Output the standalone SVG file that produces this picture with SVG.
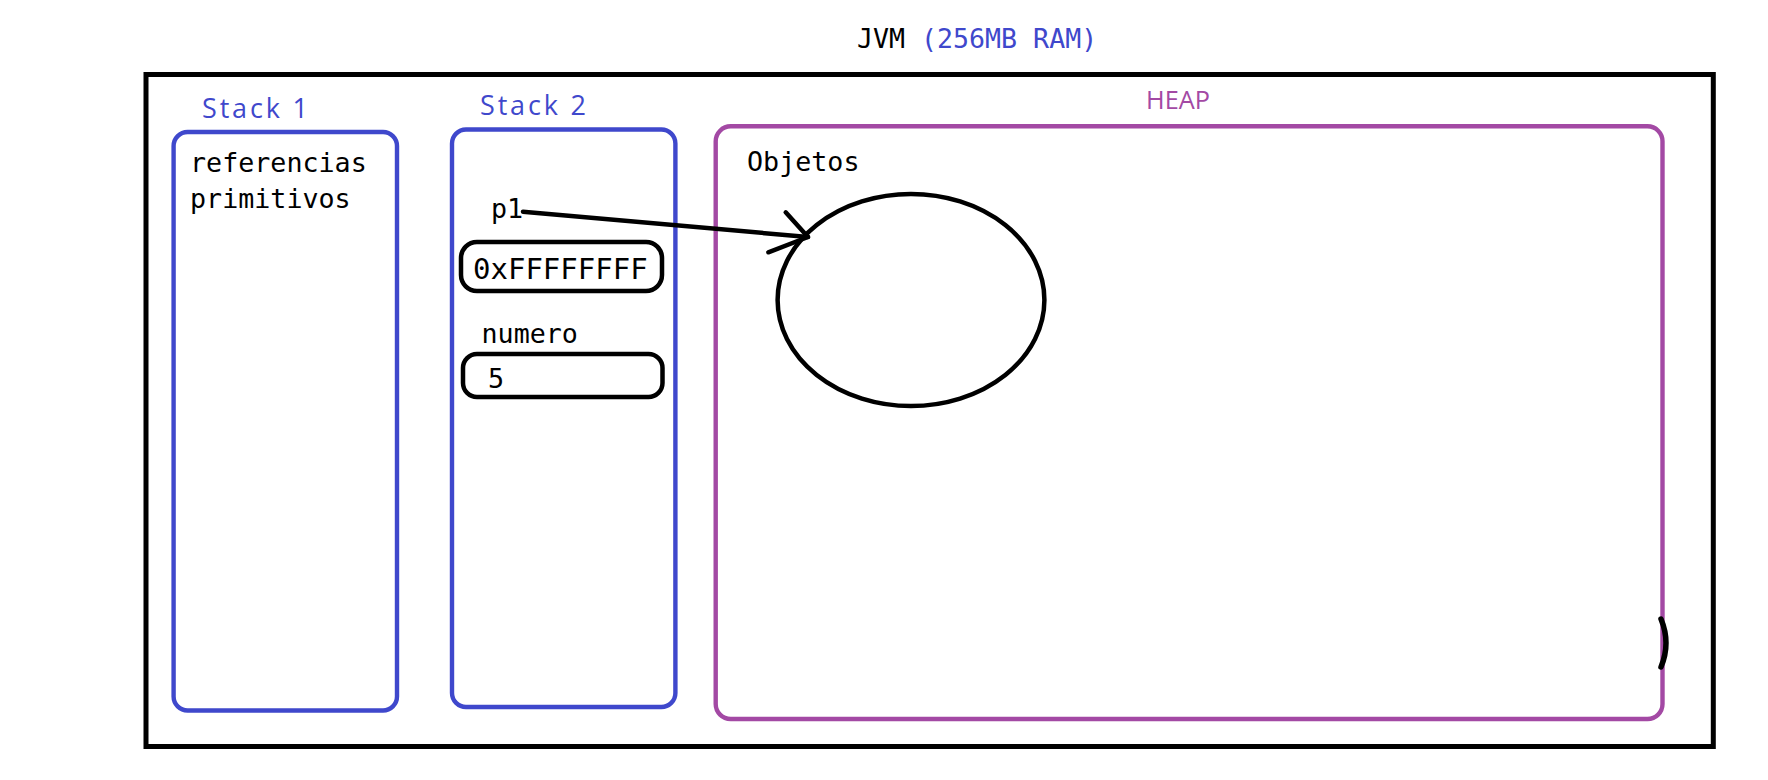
<svg xmlns="http://www.w3.org/2000/svg" width="1768" height="780" viewBox="0 0 1768 780">
<style>
.mono{font-family:"DejaVu Sans Mono","Liberation Mono",monospace;fill:#000}
.sans{font-family:"Open Sans","Noto Sans","Liberation Sans",sans-serif}
.blue{fill:#3F48CC}
.purple{fill:#A349A4}
.bbox{fill:none;stroke:#3F48CC;stroke-width:4.4}
.pbox{fill:none;stroke:#A349A4;stroke-width:4.4}
.ink{fill:none;stroke:#000;stroke-width:4.5;stroke-linecap:round;stroke-linejoin:round}
</style>
<rect width="1768" height="780" fill="#fff"/>
<g id="jvm">
<text class="mono" x="857" y="48.3" font-size="26.6">JVM <tspan class="blue">(256MB RAM)</tspan></text>
<rect x="146" y="74.5" width="1567.3" height="672" fill="none" stroke="#000" stroke-width="5"/>
</g>
<g id="stack1">
<text class="sans blue" x="202" y="118.3" font-size="27" textLength="106" lengthAdjust="spacing">Stack 1</text>
<rect class="bbox" x="173.6" y="132" width="223.4" height="578.5" rx="14"/>
<text class="mono" x="190" y="172.3" font-size="26.7">referencias</text>
<text class="mono" x="190" y="208.3" font-size="26.7">primitivos</text>
</g>
<g id="stack2">
<text class="sans blue" x="480" y="115" font-size="27" textLength="106" lengthAdjust="spacing">Stack 2</text>
<rect class="bbox" x="452" y="129.5" width="223.4" height="577.5" rx="14"/>
</g>
<g id="p1">
<text class="mono" x="491" y="218.3" font-size="26.7">p1</text>
<rect class="ink" x="461" y="242" width="201" height="49" rx="16"/>
<text class="mono" x="473" y="279.3" font-size="29">0xFFFFFFFF</text>
</g>
<g id="numero">
<text class="mono" x="481.5" y="342.7" font-size="26.7">numero</text>
<rect class="ink" x="463" y="354" width="199.5" height="43" rx="14"/>
<text class="mono" x="488" y="388.3" font-size="26.7">5</text>
</g>
<g id="heap">
<text class="sans purple" x="1146" y="109.3" font-size="25.3">HEAP</text>
<rect class="pbox" x="715.7" y="126.3" width="946.8" height="592.7" rx="15"/>
<text class="mono" x="747" y="170.7" font-size="26.7">Objetos</text>
<path class="ink" style="stroke-width:5.5" d="M1661 619 Q1671 643 1661 667"/>
</g>
<g id="objeto">
<ellipse class="ink" cx="911" cy="300" rx="133.4" ry="106"/>
</g>
<g id="connectors">
<path class="ink" d="M523 211.7 L808 237"/>
<path class="ink" d="M785.7 212.3 L808 237 L768.3 252.3"/>
</g>
</svg>
